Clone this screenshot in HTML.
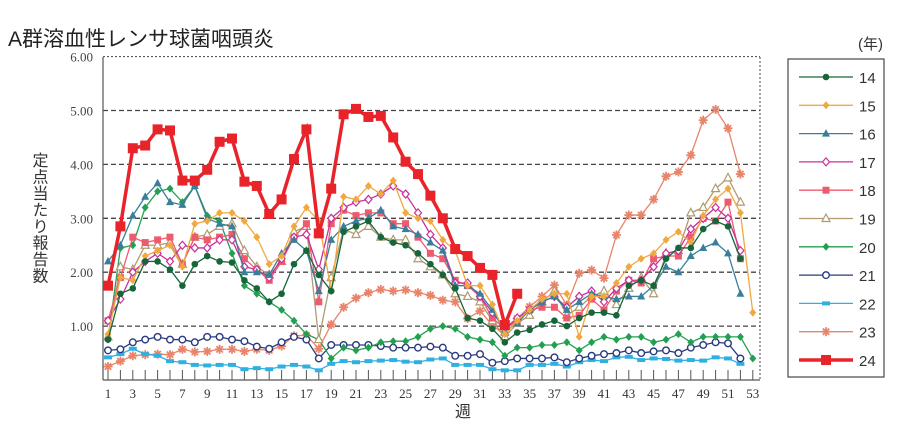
<!DOCTYPE html>
<html><head><meta charset="utf-8"><style>
body{margin:0;background:#fff;width:900px;height:438px;overflow:hidden}
svg{font-family:"Liberation Sans","Noto Sans CJK JP",sans-serif}
</style></head><body>
<svg id="s" width="900" height="438" xmlns="http://www.w3.org/2000/svg">
<text x="8" y="46" font-size="21" fill="#222">A群溶血性レンサ球菌咽頭炎</text>
<text x="858" y="49" font-size="15" fill="#333">(年)</text>
<text x="455" y="417" font-size="16" fill="#333">週</text>
<text font-size="16" fill="#333" style="writing-mode:tb" x="38" y="152" letter-spacing="0.5">定点当たり報告数</text>
</svg>
<script>
const s=document.getElementById('s');const NS='http://www.w3.org/2000/svg';
function el(t,a,p){const e=document.createElementNS(NS,t);for(const k in a)e.setAttribute(k,a[k]);(p||s).appendChild(e);return e;}
const X=w=>108+(w-1)*12.4, Y=v=>380-v*53.9;
for(let v=1;v<=6;v++){el('line',{x1:103,x2:760,y1:Y(v),y2:Y(v),stroke:'#444','stroke-width':v==6?1:1.3,'stroke-dasharray':v==6?'2,2':'5,3'});
const t=el('text',{x:93,y:Y(v)+5,'font-size':13,'text-anchor':'end',fill:'#444','font-family':'Liberation Serif,serif'});t.textContent=v.toFixed(2);}
el('line',{x1:760,x2:760,y1:57,y2:380,stroke:'#444','stroke-dasharray':'2,2'});
el('line',{x1:103,x2:103,y1:57,y2:380,stroke:'#555','stroke-width':1.2});
el('line',{x1:103,x2:760,y1:380,y2:380,stroke:'#555','stroke-width':1.2});
for(let w=1;w<=53;w++){el('line',{x1:X(w),x2:X(w),y1:370,y2:380,stroke:'#555'});
if(w%2){const t=el('text',{x:X(w),y:398,'font-size':13,'text-anchor':'middle',fill:'#333','font-family':'Liberation Serif,serif'});t.textContent=w;}}
const D={
14:['#17663a','fc',[0.75,1.6,1.7,2.2,2.2,2.05,1.75,2.15,2.3,2.2,2.18,1.85,1.7,1.45,1.6,2.15,2.4,1.95,1.65,2.75,2.85,2.95,2.65,2.55,2.5,2.35,2.15,1.95,1.7,1.15,1.1,0.95,0.7,0.88,0.93,1.03,1.1,1.0,1.15,1.25,1.25,1.2,1.75,1.85,1.75,2.25,2.45,2.45,2.8,2.95,2.85,2.25]],
15:['#f0a840','fd',[0.85,1.9,1.85,2.3,2.4,2.5,2.1,2.9,2.95,3.1,3.1,2.95,2.65,2.15,2.3,2.85,3.2,2.95,1.65,3.4,3.35,3.6,3.45,3.7,3.1,3.0,2.95,2.6,2.4,1.75,1.75,1.4,0.85,1.1,1.3,1.5,1.6,1.6,0.8,1.55,1.55,1.8,2.1,2.25,2.35,2.6,2.75,2.55,3.05,3.35,3.55,3.1,1.25]],
16:['#3a7f9a','tr',[2.2,2.5,3.05,3.4,3.65,3.3,3.25,3.6,3.0,2.9,2.85,2.0,2.0,1.95,2.35,2.6,2.4,1.65,2.6,2.85,2.95,3.0,3.15,2.85,2.8,2.7,2.55,2.4,1.75,1.75,1.6,1.3,0.9,1.05,1.3,1.45,1.55,1.3,1.45,1.6,1.55,1.5,1.55,1.55,1.75,2.1,2.0,2.3,2.45,2.55,2.35,1.6]],
17:['#c8309a','od',[1.1,1.5,2.0,2.2,2.35,2.2,2.5,2.45,2.45,2.6,2.6,2.1,2.05,1.9,2.25,2.65,2.7,2.05,3.0,3.2,3.3,3.35,3.45,3.6,3.45,3.1,2.7,2.45,1.8,1.8,1.55,1.25,0.95,1.15,1.3,1.45,1.55,1.35,1.55,1.65,1.45,1.7,1.85,1.85,2.1,2.35,2.4,2.8,3.0,3.2,3.0,2.4]],
18:['#ec5b6e','sq',[1.1,1.9,2.65,2.55,2.6,2.65,2.15,2.65,2.6,2.65,2.7,2.25,2.05,1.85,2.2,2.65,2.9,1.45,2.9,3.15,3.05,3.1,3.1,2.9,2.9,2.65,2.35,2.25,1.85,1.75,1.55,1.15,0.95,1.1,1.3,1.35,1.35,1.15,1.2,1.5,1.3,1.65,1.85,1.8,2.25,2.3,2.3,2.65,3.0,2.95,3.3,2.25]],
19:['#b09a70','ot',[0.8,2.1,2.05,2.5,2.5,2.55,2.15,2.65,2.7,2.85,2.9,2.4,2.1,1.95,2.2,2.75,2.85,0.75,1.9,2.8,2.7,2.85,2.65,2.6,2.6,2.25,2.1,1.95,1.6,1.55,1.45,1.1,0.8,1.05,1.2,1.45,1.65,1.2,1.35,1.55,1.65,1.4,1.7,1.9,1.6,2.35,2.4,3.1,3.2,3.55,3.75,3.3]],
20:['#22a050','fd',[0.75,2.45,2.5,3.2,3.5,3.55,3.3,3.6,3.05,2.95,2.35,1.75,1.6,1.45,1.3,1.1,0.85,0.75,0.4,0.6,0.55,0.6,0.7,0.72,0.72,0.8,0.95,1.0,0.95,0.8,0.75,0.7,0.45,0.6,0.6,0.65,0.65,0.7,0.55,0.7,0.8,0.75,0.8,0.8,0.7,0.75,0.85,0.7,0.8,0.8,0.8,0.8,0.4]],
21:['#2a3a80','oc',[0.55,0.57,0.7,0.75,0.8,0.75,0.75,0.7,0.8,0.8,0.75,0.72,0.62,0.58,0.7,0.8,0.75,0.4,0.65,0.65,0.65,0.65,0.63,0.6,0.6,0.6,0.62,0.6,0.45,0.45,0.48,0.32,0.35,0.4,0.4,0.4,0.42,0.33,0.4,0.45,0.48,0.5,0.55,0.5,0.53,0.55,0.5,0.6,0.65,0.7,0.68,0.4]],
22:['#30b0e0','fr',[0.42,0.48,0.58,0.48,0.45,0.35,0.33,0.28,0.27,0.28,0.28,0.2,0.22,0.2,0.25,0.28,0.25,0.18,0.3,0.35,0.33,0.35,0.36,0.37,0.34,0.33,0.38,0.4,0.28,0.28,0.28,0.2,0.18,0.18,0.28,0.28,0.3,0.25,0.33,0.37,0.35,0.42,0.43,0.37,0.4,0.39,0.36,0.37,0.36,0.42,0.4,0.3]],
23:['#e8846a','st',[0.25,0.35,0.45,0.47,0.48,0.47,0.57,0.52,0.53,0.57,0.57,0.53,0.57,0.55,0.63,0.82,0.83,0.58,1.03,1.35,1.52,1.62,1.68,1.65,1.67,1.62,1.57,1.48,1.45,1.14,1.28,1.02,0.83,1.14,1.36,1.55,1.76,1.39,1.98,2.04,1.89,2.69,3.06,3.06,3.35,3.78,3.86,4.17,4.82,5.02,4.67,3.82]],
24:['#e8242a','bs',[1.75,2.85,4.3,4.35,4.65,4.63,3.7,3.7,3.9,4.42,4.48,3.68,3.6,3.08,3.35,4.1,4.65,2.72,3.55,4.93,5.03,4.88,4.9,4.5,4.05,3.82,3.42,3.0,2.43,2.3,2.08,1.95,1.02,1.6]]};
function mk(t,x,y,c,g){
 if(t=='fc')el('circle',{cx:x,cy:y,r:3.3,fill:c},g);
 else if(t=='oc')el('circle',{cx:x,cy:y,r:3.3,fill:'#fff',stroke:c,'stroke-width':1.4},g);
 else if(t=='fd')el('polygon',{points:`${x},${y-4} ${x+3.5},${y} ${x},${y+4} ${x-3.5},${y}`,fill:c},g);
 else if(t=='od')el('polygon',{points:`${x},${y-4} ${x+3.5},${y} ${x},${y+4} ${x-3.5},${y}`,fill:'#fff',stroke:c,'stroke-width':1.2},g);
 else if(t=='tr')el('polygon',{points:`${x},${y-4.5} ${x+4},${y+3} ${x-4},${y+3}`,fill:c},g);
 else if(t=='ot')el('polygon',{points:`${x},${y-4.5} ${x+4},${y+3} ${x-4},${y+3}`,fill:'#fff',stroke:c,'stroke-width':1.2},g);
 else if(t=='sq')el('rect',{x:x-3.5,y:y-3.5,width:7,height:7,fill:c},g);
 else if(t=='bs')el('rect',{x:x-5,y:y-5,width:10,height:10,fill:c},g);
 else if(t=='fr')el('rect',{x:x-4,y:y-2,width:8,height:4,fill:c},g);
 else if(t=='st'){for(let a=0;a<4;a++){const r=a*Math.PI/4,dx=4.5*Math.cos(r),dy=4.5*Math.sin(r);el('line',{x1:x-dx,y1:y-dy,x2:x+dx,y2:y+dy,stroke:c,'stroke-width':1.8},g);}}
}
const order=[23,22,21,20,19,18,17,16,15,14,24];
for(const k of order){const [c,t,v]=D[k];const w=k==24?3.5:1.3;
 el('polyline',{points:v.map((d,i)=>X(i+1)+','+Y(d)).join(' '),fill:'none',stroke:c,'stroke-width':w});
 v.forEach((d,i)=>mk(t,X(i+1),Y(d),c));}
el('rect',{x:788,y:59,width:96,height:318,fill:'#fff',stroke:'#555','stroke-width':1.3});
let i=0;for(const k of [14,15,16,17,18,19,20,21,22,23,24]){const [c,t]=D[k];const y=77+i*28.3;
 el('line',{x1:799,x2:853,y1:y,y2:y,stroke:c,'stroke-width':k==24?3.5:1.3});mk(t,826,y,c);
 const tx=el('text',{x:859,y:y+6,'font-size':15,fill:'#333'});tx.textContent=k;i++;}
</script>
</body></html>
